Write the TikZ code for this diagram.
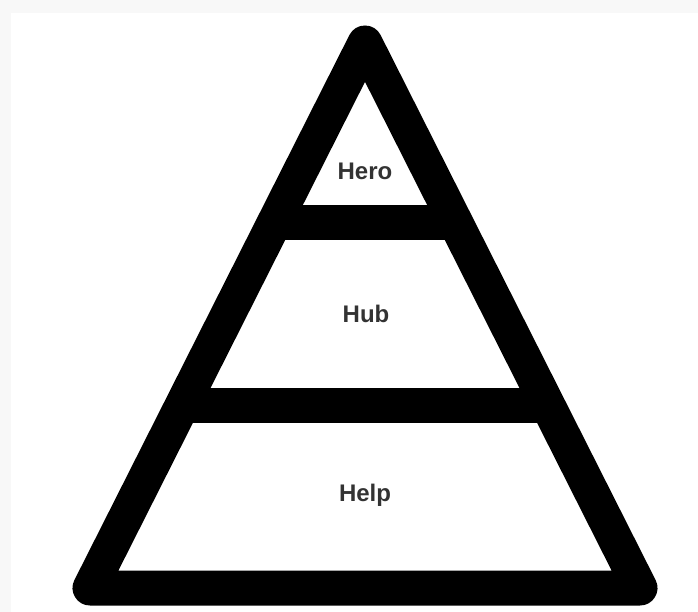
\documentclass[tikz,border=0pt]{standalone}
\usepackage{fontspec}
\setmainfont{Liberation Sans}
\usetikzlibrary{calc}
\definecolor{frame}{HTML}{F8F8F8}
\definecolor{label}{HTML}{333333}

\begin{document}
\begin{tikzpicture}[x=1pt,y=-1pt,
    tier/.style={font=\fontsize{24}{28}\selectfont\bfseries,text=label,anchor=base},
    band/.style={line width=35pt,line join=round}]
  % Background
  \fill[frame] (0,0) rectangle (698,612);
  \fill[white] (11,13) rectangle (698,612);
  \useasboundingbox (0,0) rectangle (698,612);

  % Pyramid outline
  \coordinate (apex) at (365,43);
  \coordinate (left) at (90,588);
  \coordinate (right) at (640,588);
  \draw[band] (apex) -- (left) -- (right) -- cycle;

  % Dividers
  \draw[band] ($(apex)!0.330!(left)$) -- ($(apex)!0.330!(right)$);
  \draw[band] ($(apex)!0.666!(left)$) -- ($(apex)!0.666!(right)$);

  % Labels
  \node[tier] (hero) at (365,180) {Hero};
  \node[tier] (hub) at (366,322) {Hub};
  \node[tier] (help) at (365,501) {Help};
\end{tikzpicture}
\end{document}
